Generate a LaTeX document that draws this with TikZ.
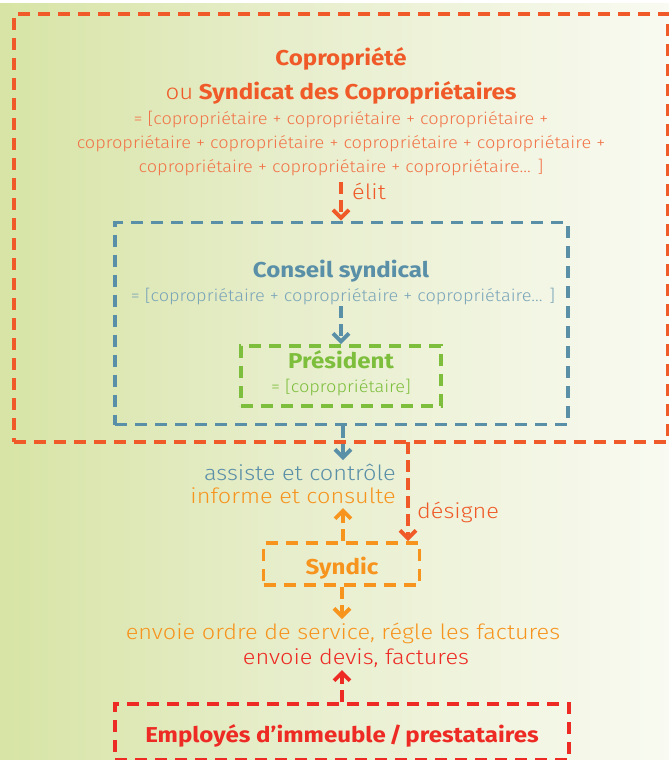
\documentclass[tikz,border=0pt]{standalone}
\usepackage{fontspec}
\setmainfont{Fira Sans}
\newfontfamily\titlef{Fira Sans}[FakeStretch=1.12]
\newfontfamily\lightf{Fira Sans Light}[FakeStretch=1.12]
\newfontfamily\subf{Fira Sans Light}[FakeStretch=1.1]
\usetikzlibrary{arrows.meta}
\definecolor{cOR}{HTML}{F05A28}
\definecolor{cBL}{HTML}{5A8FA8}
\definecolor{cGR}{HTML}{7DBE3C}
\definecolor{cOG}{HTML}{F7941E}
\definecolor{cRD}{HTML}{ED2A24}
\definecolor{bgL}{HTML}{C4D977}
\definecolor{bgA}{HTML}{D3E29C}
\definecolor{bgM}{HTML}{E6EDC9}
\pgfdeclarehorizontalshading{bgshade}{100bp}{color(0bp)=(bgL); color(20bp)=(bgA); color(45bp)=(bgM); color(85bp)=(white); color(100bp)=(white)}
\tikzset{
  dbox/.style={draw, line width=3.8bp, dash pattern=on 12bp off 8bp, inner sep=0pt},
  conn/.style={line width=3.8bp, dash pattern=on 12bp off 6bp, -{Straight Barb[length=8bp,width=16bp]}},
  ttl/.style={font=\titlef\fontsize{21.5bp}{24bp}\selectfont\bfseries, anchor=base, inner sep=0pt},
  sub/.style={font=\subf\fontsize{16.5bp}{24bp}\selectfont, anchor=base, inner sep=0pt},
  lbl/.style={font=\lightf\fontsize{21bp}{24bp}\selectfont, anchor=base, inner sep=0pt},
}
\begin{document}
\begin{tikzpicture}[x=1bp,y=-1bp]
\useasboundingbox (0,0) rectangle (669,760);
\shade[shading=bgshade] (0,0) rectangle (669,760);
\fill[white] (0,0) rectangle (669,3);
% boxes
\node[dbox, cOR, minimum width=654bp, minimum height=428bp] (copro) at (341,228) {};
\node[dbox, cBL, minimum width=453bp, minimum height=202bp] (conseil) at (341.5,323.5) {};
\node[dbox, cGR, minimum width=200bp, minimum height=60bp] (pres) at (341,376) {};
\node[dbox, cOG, minimum width=156bp, minimum height=42bp] (syndic) at (341.5,564) {};
\node[dbox, cRD, minimum width=454bp, minimum height=56bp] (empl) at (342,732) {};
% texts
\node[ttl, cOR] (t1) at (341,66) {Copropriété};
\node[ttl, cOR] (t2) at (341,99) {{\lightf\mdseries ou} Syndicat des Copropriétaires};
\node[sub, cOR!85] (s1) at (341,124) {= [copropriétaire + copropriétaire + copropriétaire +};
\node[sub, cOR!85] (s2) at (341,148) {copropriétaire + copropriétaire + copropriétaire + copropriétaire +};
\node[sub, cOR!85] (s3) at (341,172) {copropriétaire + copropriétaire + copropriétaire... ]};
\node[lbl, cOR, anchor=base west] (elit) at (352,199) {élit};
\node[ttl, cBL] (t3) at (341,277) {Conseil syndical};
\node[sub, cBL!80] (s4) at (343,301) {= [copropriétaire + copropriétaire + copropriétaire... ]};
\node[ttl, cGR] (t4) at (341,368) {Président};
\node[sub, cGR] (s5) at (341,392) {= [copropriétaire]};
\node[lbl, cBL, anchor=base east] (assiste) at (396,480) {assiste et contrôle};
\node[lbl, cOG, anchor=base east] (informe) at (396,503) {informe et consulte};
\node[lbl, cOR, anchor=base west] (designe) at (417,518) {désigne};
\node[ttl, cOG] (t5) at (342,574) {Syndic};
\node[lbl, cOG] (envoie1) at (343,639) {envoie ordre de service, régle les factures};
\node[lbl, cRD] (envoie2) at (356,664) {envoie devis, factures};
\node[ttl, cRD] (t6) at (342,742) {Employés d’immeuble\,/\,prestataires};
% connectors
\coordinate (e0) at (341,182);
\draw[conn, cOR] (e0) -- (e0 |- conseil.north);
\coordinate (c0) at (341,306);
\draw[conn, cBL] (c0) -- (c0 |- pres.north);
\coordinate (a0) at (343,460);
\draw[conn, cBL] (a0 |- conseil.south) -- (a0);
\coordinate (i0) at (343,508);
\draw[conn, cOG] (i0 |- syndic.north) -- (i0);
\coordinate (d0) at (408,442);
\draw[conn, cOR] (d0) -- (d0 |- syndic.north);
\coordinate (o0) at (342,619);
\draw[conn, cOG] (o0 |- syndic.south) -- (o0);
\coordinate (v0) at (342,670);
\draw[conn, cRD] (v0 |- empl.north) -- (v0);
\end{tikzpicture}
\end{document}
